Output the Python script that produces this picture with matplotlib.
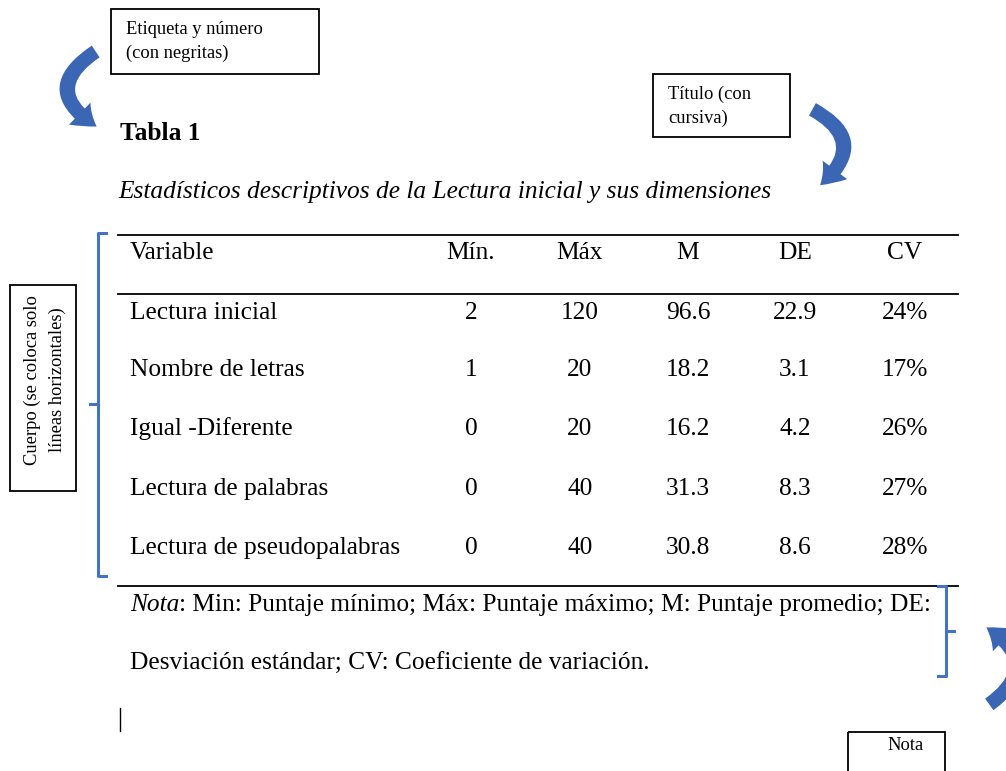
import matplotlib.pyplot as plt
from matplotlib.patches import FancyArrowPatch, Rectangle

# Table contents
header = ["Variable", "Mín.", "Máx", "M", "DE", "CV"]
variables = ["Lectura inicial", "Nombre de letras", "Igual -Diferente",
             "Lectura de palabras", "Lectura de pseudopalabras"]
minimos = ["2", "1", "0", "0", "0"]
maximos = ["120", "20", "20", "40", "40"]
medias = ["96.6", "18.2", "16.2", "31.3", "30.8"]
desv = ["22.9", "3.1", "4.2", "8.3", "8.6"]
cv = ["24%", "17%", "26%", "27%", "28%"]

label = "Tabla 1"
title = "Estadísticos descriptivos de la Lectura inicial y sus dimensiones"
nota_1 = ": Min: Puntaje mínimo; Máx: Puntaje máximo; M: Puntaje promedio; DE:"
nota_2 = "Desviación estándar; CV: Coeficiente de variación."

plt.rcParams["font.family"] = ["Liberation Serif", "DejaVu Serif"]
blue = "#4472C4"
arrow_blue = "#3A66B4"

fig = plt.figure(figsize=(10.06, 7.71), dpi=100)
ax = fig.add_axes([0, 0, 1, 1])
ax.set_xlim(0, 1006)
ax.set_ylim(771, 0)
ax.axis("off")

fs = 18.3
small = 13.3

# label and title
ax.text(120, 134, label, fontsize=fs, fontweight="bold", va="center")
ax.text(118, 192, title, fontsize=fs, style="italic", va="center")

# table rules
ax.plot([118, 958], [235, 235], color="black", lw=1.3)
ax.plot([118, 958], [294, 294], color="black", lw=1.3)
ax.plot([118, 958], [586, 586], color="black", lw=1.3)

col_x = [130, 471, 580, 688, 795, 905]
ax.text(col_x[0], 253, header[0], fontsize=fs, va="center")
for x, h in zip(col_x[1:], header[1:]):
    ax.text(x, 253, h, fontsize=fs, va="center", ha="center")

row_y = [313, 370, 429, 489, 548]
cols = [minimos, maximos, medias, desv, cv]
for i, y in enumerate(row_y):
    ax.text(col_x[0], y, variables[i], fontsize=fs, va="center")
    for x, c in zip(col_x[1:], cols):
        ax.text(x, y, c[i], fontsize=fs, va="center", ha="center")

# note
t = ax.text(130, 605, "Nota", fontsize=fs, style="italic", va="center")
fig.canvas.draw()
bb = t.get_window_extent().transformed(ax.transData.inverted())
ax.text(bb.x1, 605, nota_1, fontsize=fs, va="center")
ax.text(130, 664, nota_2, fontsize=fs, va="center")

# text cursor
ax.plot([120, 120], [708, 731], color="black", lw=1)

# annotation boxes
box_kw = dict(fill=False, edgecolor="black", lw=1.3)
ax.add_patch(Rectangle((111, 9), 208, 65, **box_kw))
ax.text(126, 29, "Etiqueta y número", fontsize=small, va="center")
ax.text(126, 53, "(con negritas)", fontsize=small, va="center")

ax.add_patch(Rectangle((653, 74), 137, 63, **box_kw))
ax.text(668, 94, "Título (con", fontsize=small, va="center")
ax.text(668, 118, "cursiva)", fontsize=small, va="center")

ax.add_patch(Rectangle((10, 285), 66, 206, **box_kw))
ax.text(32, 380, "Cuerpo (se coloca solo", fontsize=small, rotation=90,
        va="center", ha="center")
ax.text(57, 380, "líneas horizontales)", fontsize=small, rotation=90,
        va="center", ha="center")

ax.add_patch(Rectangle((848, 732), 97, 50, **box_kw))
ax.text(887, 746, "Nota", fontsize=small, va="center")

# brackets
ax.plot([106, 98, 98, 106], [233, 233, 576, 576], color=blue, lw=2.2)
ax.plot([90, 98], [404, 404], color=blue, lw=2.2)
ax.plot([938, 946, 946, 938], [586, 586, 676, 676], color=blue, lw=2.2)
ax.plot([946, 954], [631, 631], color=blue, lw=2.2)

# curved arrows
style = "simple,head_length=0.9,head_width=1.3,tail_width=0.6"
for a, b, rad in [((98, 50), (99, 128), 0.8),
                  ((810, 108), (818, 187), -0.75),
                  ((987, 706), (984, 626), 0.78)]:
    ax.add_patch(FancyArrowPatch(a, b, connectionstyle=f"arc3,rad={rad}",
                                 arrowstyle=style, mutation_scale=17,
                                 color=arrow_blue, lw=0))

fig.savefig("out.png", dpi=100)
